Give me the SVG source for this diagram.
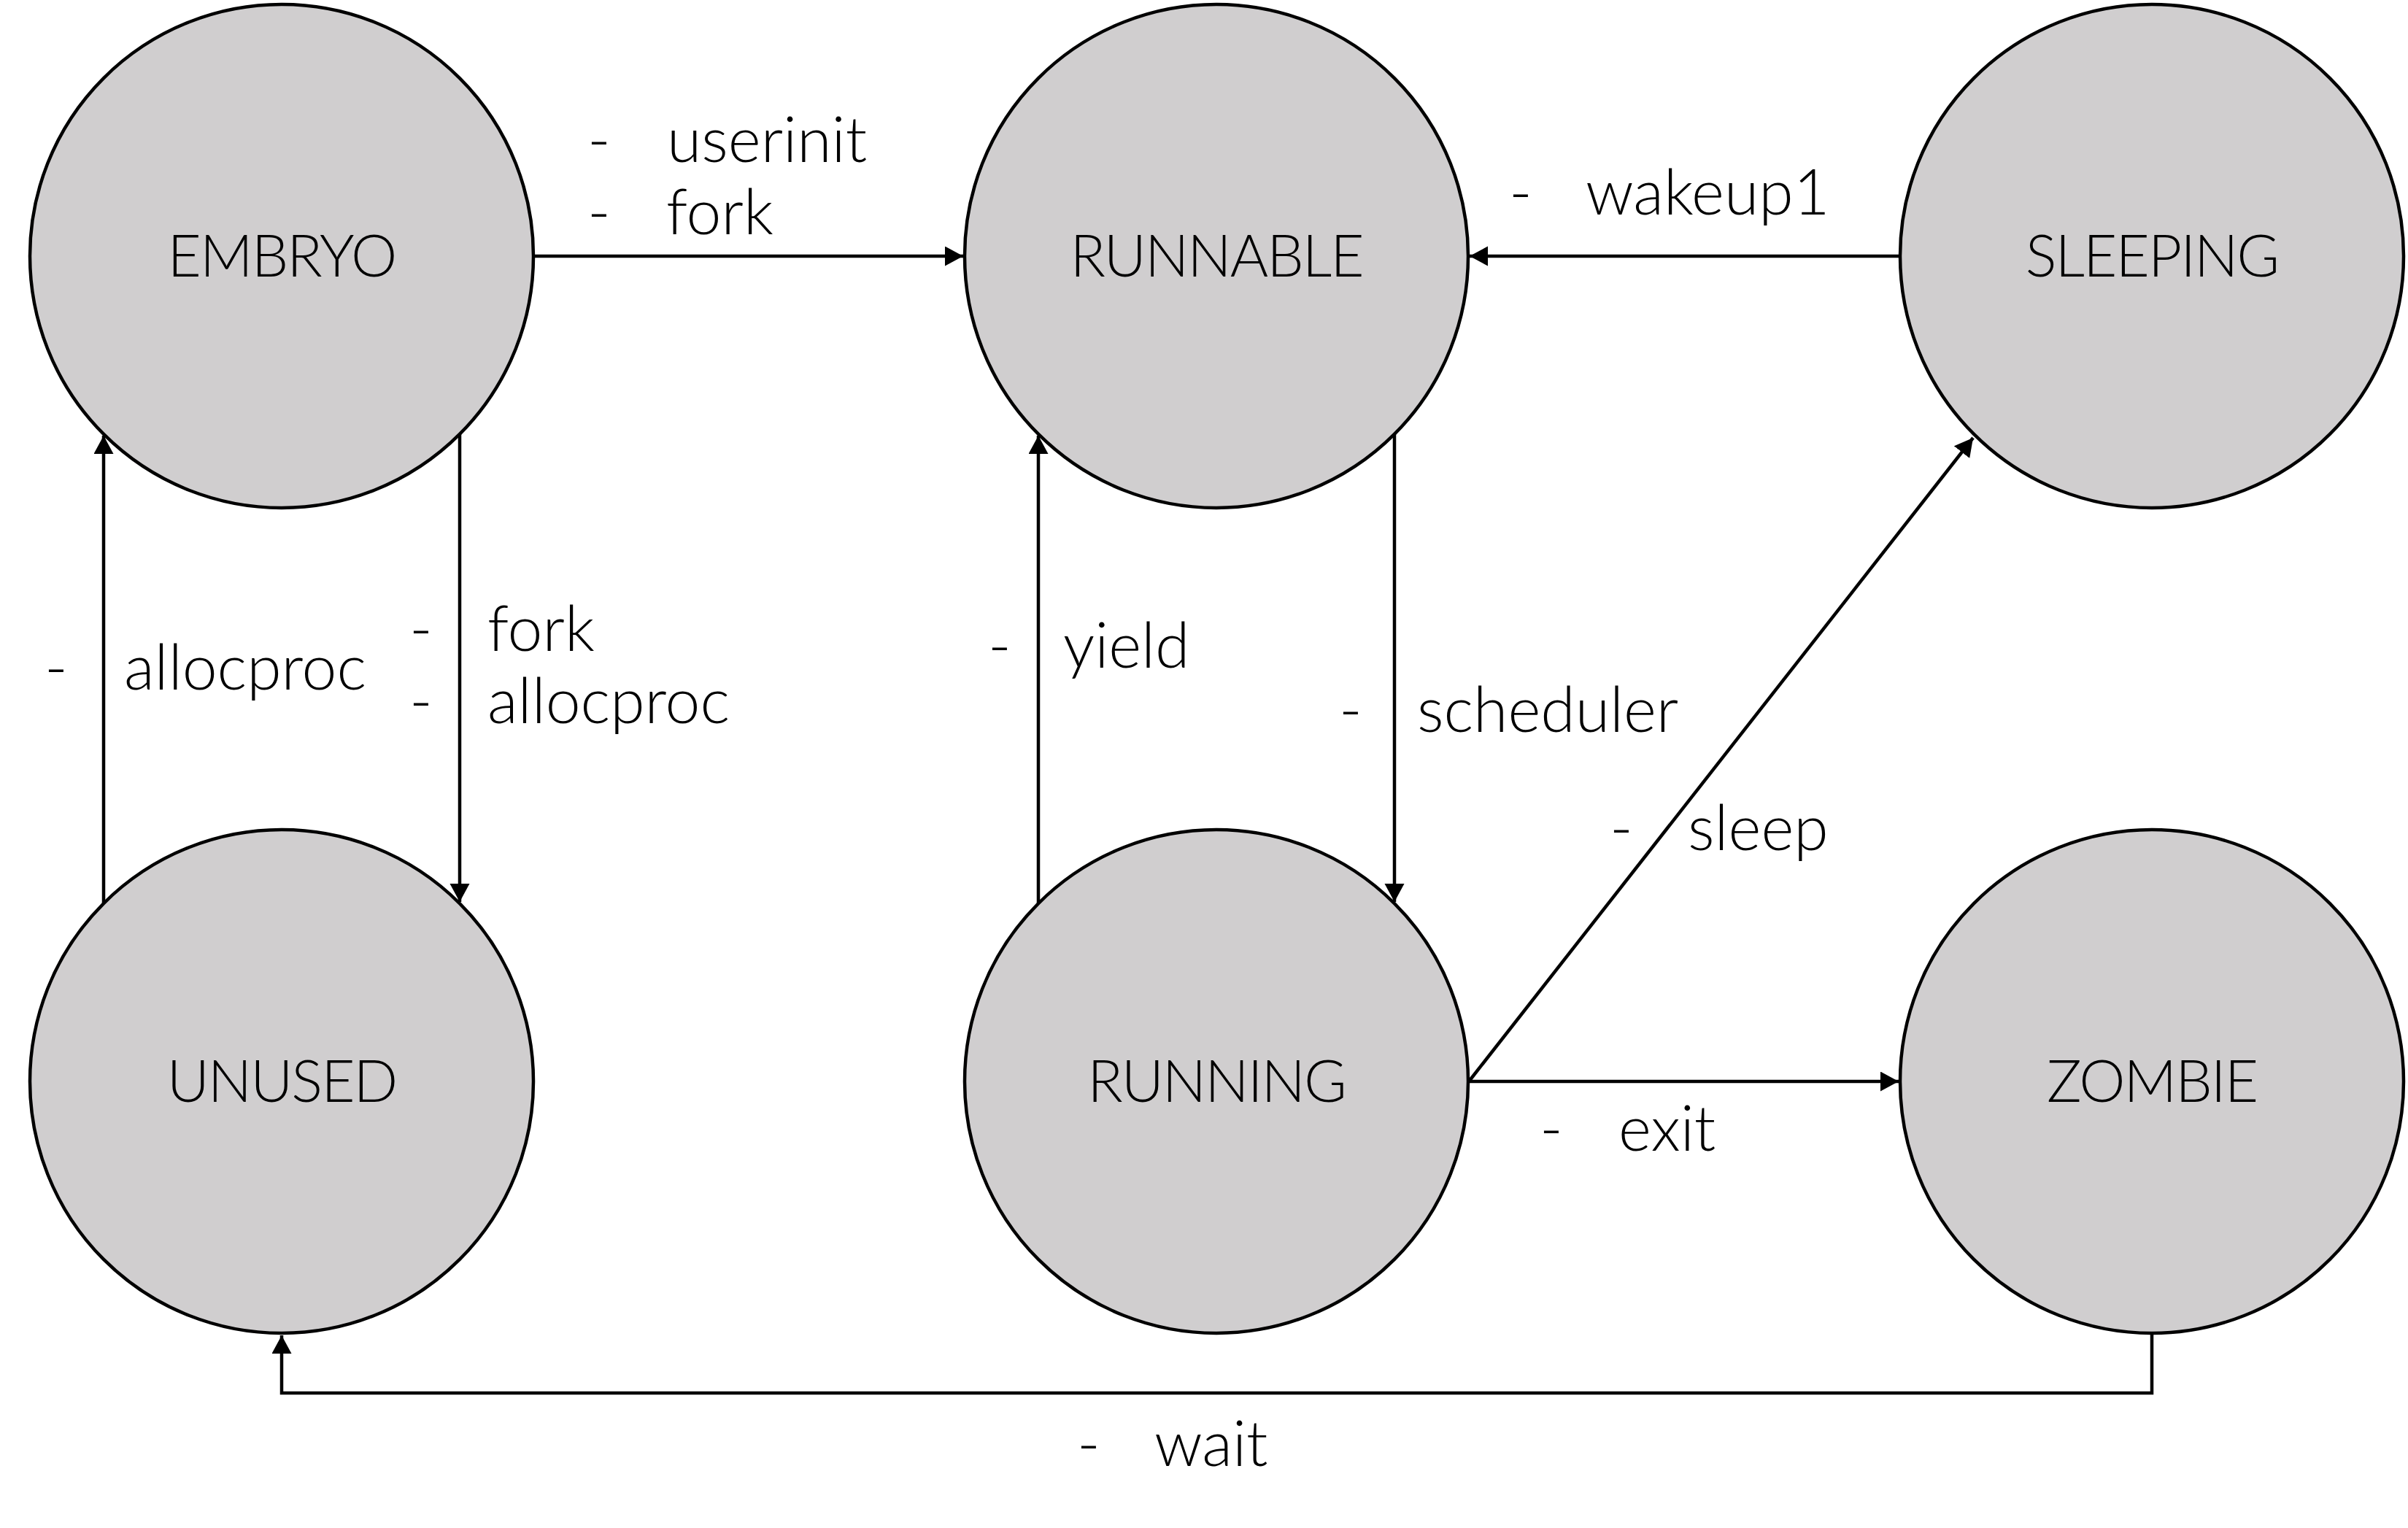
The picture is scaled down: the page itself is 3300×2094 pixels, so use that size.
<svg xmlns="http://www.w3.org/2000/svg" width="3300" height="2094" viewBox="0 0 3300 2094">
<style>
.node{fill:#d0cecf;stroke:#000;stroke-width:4.5}
.lbl{font-family:"Lato","Liberation Sans",sans-serif;font-weight:300;font-size:86px;fill:#000}
.nl{text-anchor:middle;font-size:80px;letter-spacing:-2px}
.edge{fill:none;stroke:#000;stroke-width:4.5}
</style>
<defs>
<marker id="arr" markerUnits="userSpaceOnUse" markerWidth="26" markerHeight="28" refX="25" refY="13.5" orient="auto">
<path d="M0,0 L25,13.5 L0,27 z" fill="#000"/>
</marker>
</defs>
<rect width="3300" height="2094" fill="#fff"/>
<g id="connectors">
<path class="edge" d="M731,351 H1320" marker-end="url(#arr)"/>
<path class="edge" d="M2604,351 H2014" marker-end="url(#arr)"/>
<path class="edge" d="M142,1238 V597" marker-end="url(#arr)"/>
<path class="edge" d="M630,595 V1236" marker-end="url(#arr)"/>
<path class="edge" d="M1423,1238 V597" marker-end="url(#arr)"/>
<path class="edge" d="M1911,595 V1236" marker-end="url(#arr)"/>
<path class="edge" d="M2013,1482 L2704,600" marker-end="url(#arr)"/>
<path class="edge" d="M2013,1482 H2602" marker-end="url(#arr)"/>
<path class="edge" d="M2949,1827 V1909 H386 V1830" marker-end="url(#arr)"/>
</g>
<g id="edge-labels">
<text class="lbl" y="222"><tspan x="805">-</tspan><tspan x="914">userinit</tspan></text>
<text class="lbl" y="321"><tspan x="805">-</tspan><tspan x="913">fork</tspan></text>
<text class="lbl" y="294"><tspan x="2068">-</tspan><tspan x="2173">wakeup1</tspan></text>
<text class="lbl" y="945"><tspan x="61">-</tspan><tspan x="170">allocproc</tspan></text>
<text class="lbl" y="892"><tspan x="561">-</tspan><tspan x="668">fork</tspan></text>
<text class="lbl" y="991"><tspan x="561">-</tspan><tspan x="668">allocproc</tspan></text>
<text class="lbl" y="915"><tspan x="1354">-</tspan><tspan x="1457">yield</tspan></text>
<text class="lbl" y="1003"><tspan x="1835">-</tspan><tspan x="1942">scheduler</tspan></text>
<text class="lbl" y="1165"><tspan x="2206">-</tspan><tspan x="2313">sleep</tspan></text>
<text class="lbl" y="1577"><tspan x="2110">-</tspan><tspan x="2218">exit</tspan></text>
<text class="lbl" y="2009"><tspan x="1476">-</tspan><tspan x="1582">wait</tspan></text>
</g>
<g id="EMBRYO"><circle class="node" cx="386" cy="351" r="345"/><text class="lbl nl" x="386" y="379">EMBRYO</text></g>
<g id="RUNNABLE"><circle class="node" cx="1667" cy="351" r="345"/><text class="lbl nl" x="1667" y="379">RUNNABLE</text></g>
<g id="SLEEPING"><circle class="node" cx="2949" cy="351" r="345"/><text class="lbl nl" x="2949" y="379">SLEEPING</text></g>
<g id="UNUSED"><circle class="node" cx="386" cy="1482" r="345"/><text class="lbl nl" x="386" y="1510">UNUSED</text></g>
<g id="RUNNING"><circle class="node" cx="1667" cy="1482" r="345"/><text class="lbl nl" x="1667" y="1510">RUNNING</text></g>
<g id="ZOMBIE"><circle class="node" cx="2949" cy="1482" r="345"/><text class="lbl nl" x="2949" y="1510">ZOMBIE</text></g>
</svg>
